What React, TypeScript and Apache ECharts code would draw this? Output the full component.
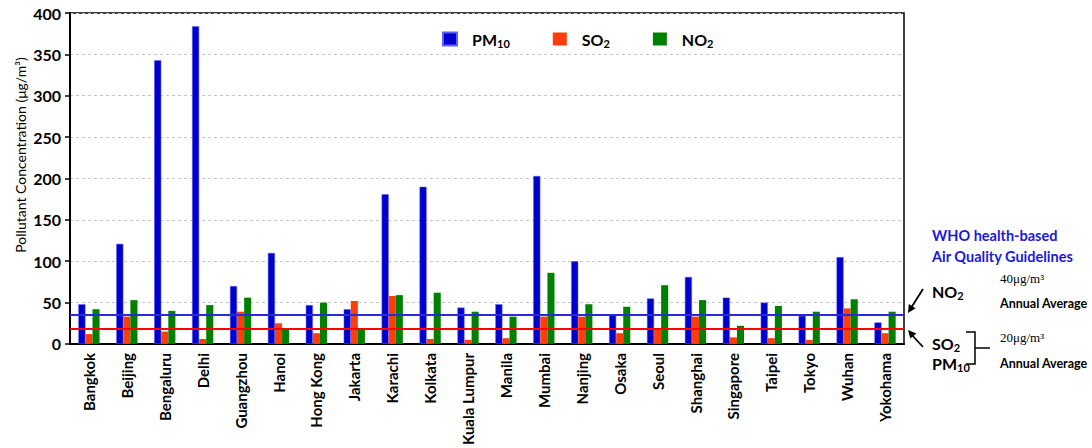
import React, { useEffect, useRef } from "react";
import * as echarts from "echarts";

const cities = [
  "Bangkok", "Beijing", "Bengaluru", "Delhi", "Guangzhou", "Hanoi", "Hong Kong",
  "Jakarta", "Karachi", "Kolkata", "Kuala Lumpur", "Manila", "Mumbai", "Nanjing",
  "Osaka", "Seoul", "Shanghai", "Singapore", "Taipei", "Tokyo", "Wuhan", "Yokohama",
];
const pm10 = [48, 121, 343, 384, 70, 110, 47, 42, 181, 190, 44, 48, 203, 100, 35, 55, 81, 56, 50, 34, 105, 26];
const so2 = [12, 33, 15, 6, 39, 25, 13, 52, 58, 6, 5, 7, 33, 33, 13, 18, 33, 8, 7, 5, 43, 13];
const no2 = [42, 53, 40, 47, 56, 19, 50, 17, 59, 62, 39, 33, 86, 48, 45, 71, 53, 22, 46, 39, 54, 39];
const yTicks = [0, 50, 100, 150, 200, 250, 300, 350, 400];
const no2Guide = 35;
const so2Guide = 18;

const FONT = "Lato";

export default function App() {
  const ref = useRef<HTMLDivElement>(null);
  useEffect(() => {
    const chart = echarts.init(ref.current!, null, { renderer: "svg" });
    const subRich = {
      a: { fontFamily: FONT, fontWeight: "bold", fontSize: 16, color: "#000" },
      s: { fontFamily: FONT, fontWeight: "bold", fontSize: 11, color: "#000", padding: [9, 0, 0, 0] },
    };
    const legendLabel: Record<string, string> = {
      PM10: "{a|PM}{s|10}",
      SO2: "{a|SO}{s|2}",
      NO2: "{a|NO}{s|2}",
    };
    chart.setOption({
      animation: false,
      backgroundColor: "#fff",
      grid: {
        left: 70, right: 188, top: 13, bottom: 104,
        show: true, borderColor: "#000", borderWidth: 1.5, backgroundColor: "transparent",
      },
      legend: {
        left: 437, top: 26,
        itemWidth: 14, itemHeight: 13, itemGap: 43,
        icon: "rect",
        data: ["PM10", "SO2", "NO2"],
        formatter: (n: string) => legendLabel[n],
        textStyle: { padding: [0, 0, 0, 10], rich: subRich },
      },
      xAxis: {
        type: "category",
        data: cities,
        axisLine: { lineStyle: { color: "#000", width: 2 } },
        axisTick: { length: 5, lineStyle: { color: "#000", width: 1.5 } },
        axisLabel: {
          interval: 0, rotate: 90, margin: 9,
          fontFamily: FONT, fontWeight: "bold", fontSize: 15, color: "#000",
        },
      },
      yAxis: {
        type: "value",
        min: yTicks[0], max: yTicks[yTicks.length - 1], interval: 50,
        axisLine: { show: true, lineStyle: { color: "#000", width: 2 } },
        axisTick: { show: true, length: 5, lineStyle: { color: "#000", width: 1.5 } },
        axisLabel: { margin: 9, fontFamily: FONT, fontWeight: "bold", fontSize: 16, color: "#000" },
        splitLine: { lineStyle: { color: "#c4c4c4", type: [3, 3], width: 1 } },
      },
      series: [
        {
          name: "PM10", type: "bar", data: pm10, barGap: "0%", barCategoryGap: "44%",
          itemStyle: { color: "#0000cc", borderColor: "#6060ff", borderWidth: 0.5 },
          markLine: {
            silent: true, symbol: ["none", "none"], label: { show: false },
            data: [
              { yAxis: no2Guide, lineStyle: { color: "#2a2ad8", width: 2, type: "solid" } },
              { yAxis: so2Guide, lineStyle: { color: "#ff0000", width: 2, type: "solid" } },
            ],
          },
        },
        { name: "SO2", type: "bar", data: so2, barGap: "0%", itemStyle: { color: "#ff3d0a" } },
        { name: "NO2", type: "bar", data: no2, barGap: "0%", itemStyle: { color: "#008000" } },
      ],
      graphic: [
        {
          type: "text", x: 20, y: 155, rotation: Math.PI / 2,
          style: {
            text: "Pollutant Concentration (μg/m³)", fontFamily: FONT, fontSize: 14,
            fill: "#000", align: "center", verticalAlign: "middle",
          },
        },
        { type: "text", x: 932, y: 228, style: { text: "WHO health-based", fontFamily: FONT, fontWeight: "bold", fontSize: 14.5, fill: "#1a1ad8" } },
        { type: "text", x: 932, y: 249, style: { text: "Air Quality Guidelines", fontFamily: FONT, fontWeight: "bold", fontSize: 14.5, fill: "#1a1ad8" } },
        { type: "text", x: 1000, y: 272, style: { text: "40μg/m³", fontFamily: "Liberation Serif", fontSize: 13, fill: "#000" } },
        { type: "text", x: 1000, y: 297, style: { text: "Annual Average", fontFamily: FONT, fontWeight: "bold", fontSize: 12.5, fill: "#000" } },
        { type: "text", x: 1000, y: 331, style: { text: "20μg/m³", fontFamily: "Liberation Serif", fontSize: 13, fill: "#000" } },
        { type: "text", x: 1000, y: 357, style: { text: "Annual Average", fontFamily: FONT, fontWeight: "bold", fontSize: 12.5, fill: "#000" } },
        { type: "text", x: 932, y: 281, style: { text: "{a|NO}{s|2}", rich: subRich } },
        { type: "text", x: 932, y: 333, style: { text: "{a|SO}{s|2}", rich: subRich } },
        { type: "text", x: 932, y: 353, style: { text: "{a|PM}{s|10}", rich: subRich } },
        { type: "line", shape: { x1: 923, y1: 289, x2: 911, y2: 308 }, style: { stroke: "#000", lineWidth: 1.8 } },
        { type: "polygon", shape: { points: [[908, 313], [915.6, 308.3], [908.8, 304.1]] }, style: { fill: "#000" } },
        { type: "line", shape: { x1: 923, y1: 347, x2: 911, y2: 334 }, style: { stroke: "#000", lineWidth: 1.8 } },
        { type: "polygon", shape: { points: [[908, 330], [916.3, 333.4], [910.3, 338.6]] }, style: { fill: "#000" } },
        {
          type: "polyline",
          shape: { points: [[966, 332], [975, 332], [975, 364], [966, 364]] },
          style: { stroke: "#000", lineWidth: 1.5, fill: "none" },
        },
        { type: "line", shape: { x1: 975, y1: 348, x2: 990, y2: 348 }, style: { stroke: "#000", lineWidth: 1.5 } },
      ],
    });
    return () => chart.dispose();
  }, []);
  return <div ref={ref} style={{ position: "fixed", left: 0, top: 0, width: 1092, height: 448 }} />;
}
